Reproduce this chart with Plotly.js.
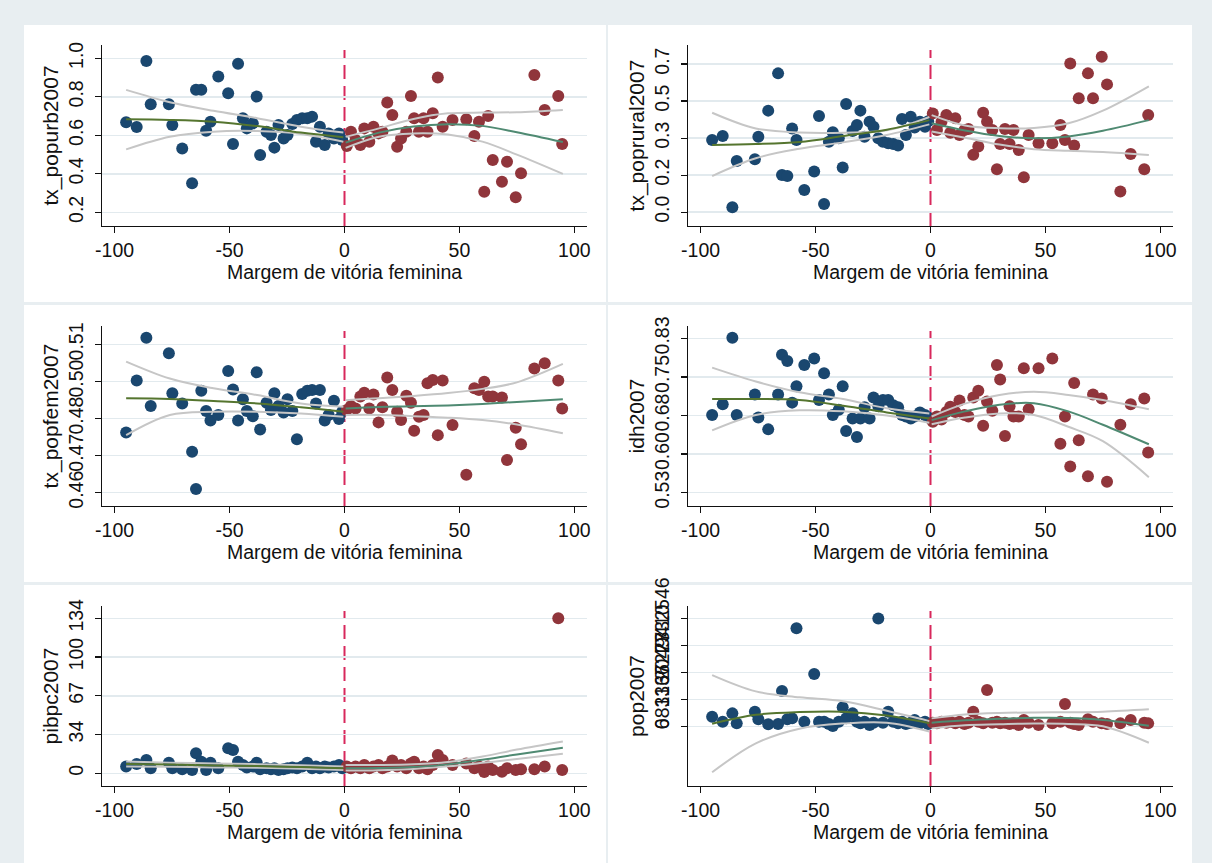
<!DOCTYPE html>
<html><head><meta charset="utf-8">
<script src="https://cdn.plot.ly/plotly-3.0.1.min.js"></script>
<style>html,body{margin:0;padding:0;background:#e8eef1;}#chart{width:1212px;height:863px;}</style>
</head><body><div id="chart"></div>
<script>
// ---- running variable (Margem de vitória feminina), shared by all panels ----
const xBlue = [-95.0,-90.4,-86.2,-84.3,-76.4,-74.9,-70.6,-66.3,-64.6,-62.3,-60.2,-58.3,-54.9,-50.6,-48.5,-46.3,-44.2,-42.5,-39.9,-38.2,-36.7,-33.9,-32.0,-30.5,-28.7,-26.5,-24.8,-22.7,-20.7,-18.4,-16.2,-14.1,-12.4,-10.7,-8.6,-6.9,-4.6,-2.4,-1.0];
const xRed = [1.0,2.8,4.8,6.9,8.6,10.8,12.6,14.8,16.5,18.6,20.8,22.9,24.6,26.9,28.9,30.3,32.4,34.4,36.1,38.4,40.6,42.7,47.0,53.0,56.5,58.5,60.8,62.5,64.5,68.5,70.7,74.5,76.8,82.6,87.1,93.0,94.7];

// ---- outcome values ----
const urbBlue = [0.668,0.643,0.986,0.761,0.761,0.654,0.532,0.351,0.836,0.836,0.624,0.671,0.905,0.818,0.555,0.972,0.688,0.636,0.662,0.801,0.498,0.619,0.602,0.536,0.654,0.584,0.602,0.659,0.680,0.688,0.688,0.697,0.567,0.645,0.550,0.610,0.584,0.610,0.576];
const urbRed = [0.545,0.619,0.576,0.550,0.636,0.567,0.645,0.610,0.619,0.770,0.706,0.541,0.584,0.619,0.804,0.688,0.619,0.688,0.619,0.714,0.900,0.645,0.680,0.683,0.597,0.671,0.307,0.700,0.472,0.359,0.463,0.278,0.403,0.913,0.732,0.804,0.555];
const ruralBlue = [0.341,0.360,0.024,0.242,0.250,0.357,0.480,0.656,0.176,0.171,0.396,0.341,0.105,0.192,0.455,0.039,0.333,0.378,0.349,0.211,0.511,0.384,0.412,0.480,0.357,0.428,0.404,0.349,0.333,0.326,0.322,0.315,0.440,0.365,0.451,0.400,0.428,0.404,0.430];
const ruralRed = [0.467,0.389,0.428,0.459,0.376,0.444,0.365,0.389,0.393,0.271,0.310,0.470,0.428,0.389,0.203,0.322,0.393,0.322,0.389,0.294,0.165,0.365,0.326,0.326,0.412,0.341,0.703,0.315,0.538,0.656,0.538,0.735,0.604,0.098,0.275,0.203,0.459];
const femBlue = [0.4803,0.4978,0.5122,0.4892,0.5070,0.4935,0.4901,0.4738,0.4612,0.4944,0.4875,0.4843,0.4862,0.5010,0.4948,0.4843,0.4915,0.4875,0.4858,0.5006,0.4813,0.4903,0.4879,0.4935,0.4892,0.4870,0.4915,0.4875,0.4780,0.4933,0.4944,0.4946,0.4901,0.4946,0.4843,0.4862,0.4910,0.4848,0.4873];
const femRed = [0.4879,0.4892,0.4884,0.4924,0.4937,0.4884,0.4931,0.4837,0.4888,0.4988,0.4946,0.4873,0.4845,0.4927,0.4903,0.4809,0.4856,0.4862,0.4969,0.4980,0.4794,0.4978,0.4828,0.4660,0.4952,0.4946,0.4974,0.4924,0.4924,0.4921,0.4710,0.4819,0.4763,0.5019,0.5036,0.4978,0.4884];
const idhBlue = [0.681,0.702,0.831,0.681,0.721,0.676,0.653,0.721,0.798,0.786,0.705,0.737,0.778,0.791,0.710,0.762,0.721,0.681,0.691,0.737,0.650,0.674,0.638,0.674,0.696,0.674,0.715,0.698,0.710,0.710,0.700,0.696,0.681,0.678,0.674,0.678,0.686,0.681,0.676];
const idhRed = [0.668,0.678,0.672,0.687,0.697,0.687,0.709,0.681,0.678,0.715,0.728,0.660,0.707,0.689,0.778,0.750,0.640,0.698,0.678,0.678,0.772,0.692,0.772,0.791,0.625,0.678,0.581,0.743,0.632,0.562,0.721,0.713,0.551,0.662,0.702,0.713,0.608];
const pibBlue = [5.8,8,11.5,4.3,9.2,4.3,3.5,2.9,17.3,10,2.9,9.2,4.3,21.6,20.2,10,7.2,4.9,5.8,9.2,3.5,4.3,3.5,4.3,2.9,3.5,4.3,4.9,4.3,5.8,9.2,4.3,5.8,4.3,5.8,4.9,5.8,7.2,4.3];
const pibRed = [5.8,4.3,5.8,4.3,7.2,4.3,5.8,7.2,4.3,5.8,11,5.8,7.2,4.3,8.5,10,4.3,5.8,3.5,7.2,15.8,11.5,7.2,8.5,4.3,5.8,1.0,5.8,2.9,1.4,4.3,2.9,3.5,3.5,5.8,134,2.9];
const popBlue = [252000,126000,336000,84000,378000,185000,59000,67000,900000,185000,210000,2480000,126000,1330000,126000,126000,67000,17000,126000,488000,210000,336000,126000,84000,126000,42000,101000,2730000,101000,378000,126000,84000,126000,67000,101000,168000,84000,126000,67000];
const popRed = [100000,84000,126000,101000,126000,84000,126000,67000,101000,378000,126000,84000,925000,101000,126000,84000,101000,67000,84000,42000,168000,101000,42000,84000,126000,572000,101000,67000,42000,185000,126000,84000,67000,84000,168000,101000,84000];

// ---- fitted curves with confidence bands ----
const fitXL = [-95,-76,-57,-38,-19,-0.5];
const fitXR = [0.5,15,30,45,60,75,95];
const urbFitL = [0.683,0.680,0.671,0.648,0.614,0.590], urbUpL = [0.836,0.772,0.727,0.689,0.645,0.614], urbLoL = [0.527,0.593,0.619,0.622,0.607,0.567];
const urbFitR = [0.562,0.614,0.646,0.658,0.649,0.616,0.565], urbUpR = [0.592,0.636,0.685,0.714,0.718,0.720,0.732], urbLoR = [0.535,0.593,0.610,0.604,0.567,0.500,0.400];
const ruralFitL = [0.318,0.322,0.332,0.360,0.390,0.435], ruralUpL = [0.470,0.396,0.377,0.376,0.387,0.450], ruralLoL = [0.171,0.255,0.300,0.330,0.365,0.415];
const ruralFitR = [0.420,0.386,0.360,0.349,0.358,0.385,0.435], ruralUpR = [0.459,0.410,0.397,0.398,0.420,0.480,0.595], ruralLoR = [0.381,0.352,0.320,0.298,0.290,0.284,0.270];
const femFitL = [0.4918,0.4916,0.4909,0.4901,0.4888,0.4873], femUpL = [0.5042,0.4985,0.4952,0.4929,0.4901,0.4890], femLoL = [0.4794,0.4862,0.4873,0.4873,0.4867,0.4856];
const femFitR = [0.4884,0.4889,0.4891,0.4894,0.4899,0.4906,0.4915], femUpR = [0.4912,0.4918,0.4926,0.4936,0.4950,0.4972,0.5034], femLoR = [0.4862,0.4862,0.4858,0.4853,0.4845,0.4830,0.4800];
const idhFitL = [0.712,0.712,0.710,0.699,0.686,0.674], idhUpL = [0.773,0.746,0.725,0.712,0.694,0.684], idhLoL = [0.651,0.681,0.690,0.688,0.680,0.666];
const idhFitR = [0.671,0.688,0.701,0.704,0.688,0.662,0.624], idhUpR = [0.678,0.703,0.720,0.726,0.720,0.710,0.692], idhLoR = [0.663,0.676,0.684,0.681,0.658,0.630,0.560];
const pibFitL = [8.1,7.5,6.8,6.2,5.4,4.3], pibUpL = [10.1,9.2,8.5,7.9,7.0,5.8], pibLoL = [5.8,5.6,5.1,4.7,4.0,2.9];
const pibFitR = [4.3,4.6,5.5,7.7,11.7,16.3,22.0], pibUpR = [7.2,7.2,7.8,9.8,14.5,20.5,27.5], pibLoR = [2.3,2.6,3.8,6.0,9.0,12.3,16.8];
const popFitL = [75000,300000,370000,378000,280000,86000], popUpL = [1300000,890000,740000,640000,400000,140000], popLoL = [-1150000,-420000,-50000,80000,100000,-120000];
const popFitR = [101000,160000,200000,225000,220000,170000,25000], popUpR = [210000,305000,345000,360000,365000,380000,437000], popLoR = [-42000,35000,60000,80000,70000,10000,-404000];

// ---- tick values and labels ----
const xTicks = [-100,-50,0,50,100], xTickText = ['-100','-50','0','50','100'];
const urbTicks = [0.2,0.4,0.6,0.8,1.0], urbLabels = ['0.2','0.4','0.6','0.8','1.0'];
const ruralTicks = [0,0.175,0.35,0.525,0.7], ruralLabels = ['0.0','0.2','0.3','0.5','0.7'];
const femTicks = [0.46,0.4725,0.485,0.4975,0.51], femLabels = ['0.46','0.47','0.48','0.50','0.51'];
const idhTicks = [0.53,0.605,0.68,0.755,0.83], idhLabels = ['0.53','0.60','0.68','0.75','0.83'];
const pibTicks = [0,33.5,67,100.5,134], pibLabels = ['0','34','67','100','134'];
const popTicks = [0,683136.5,1366273,2049409.5,2732546], popLabels = ['0','683137','1366273','2049410','2732546'];

const xTitle = 'Margem de vitória feminina';
const varNames = ['tx_popurb2007','tx_poprural2007','tx_popfem2007','idh2007','pibpc2007','pop2007'];

// ---- panel table built from the arrays above ----
const panels = [
  {name:varNames[0], b:urbBlue, r:urbRed, fl:urbFitL, ul:urbUpL, ll:urbLoL, fr:urbFitR, ur:urbUpR, lr:urbLoR, tv:urbTicks, tt:urbLabels, range:[0.129,1.069]},
  {name:varNames[1], b:ruralBlue, r:ruralRed, fl:ruralFitL, ul:ruralUpL, ll:ruralLoL, fr:ruralFitR, ur:ruralUpR, lr:ruralLoR, tv:ruralTicks, tt:ruralLabels, range:[-0.065,0.790]},
  {name:varNames[2], b:femBlue, r:femRed, fl:femFitL, ul:femUpL, ll:femLoL, fr:femFitR, ur:femUpR, lr:femLoR, tv:femTicks, tt:femLabels, range:[0.4555,0.5162]},
  {name:varNames[3], b:idhBlue, r:idhRed, fl:idhFitL, ul:idhUpL, ll:idhLoL, fr:idhFitR, ur:idhUpR, lr:idhLoR, tv:idhTicks, tt:idhLabels, range:[0.504,0.854]},
  {name:varNames[4], b:pibBlue, r:pibRed, fl:pibFitL, ul:pibUpL, ll:pibLoL, fr:pibFitR, ur:pibUpR, lr:pibLoR, tv:pibTicks, tt:pibLabels, range:[-11,144.6]},
  {name:varNames[5], b:popBlue, r:popRed, fl:popFitL, ul:popUpL, ll:popLoL, fr:popFitR, ur:popUpR, lr:popLoR, tv:popTicks, tt:popLabels, range:[-1494800,3042600]}
];

const W = 1212, H = 863;
const colPx = [[102,587],[688,1173]];
const rowPx = [[45,226],[326,506],[606,786]];
const panelPx = [[24,25,606,302],[608,25,1192,302],[24,305,606,582],[608,305,1192,582],[24,585,606,863],[608,585,1192,863]];
const FONT = 'Liberation Sans, Arial, sans-serif';
const BLUE = '#1a476f', RED = '#90353b', GREEN = '#55752f', TEAL = '#4f8a72', CI = '#c6c6c6', DASH = '#d8285c';

const traces = [];
const layout = {
  width: W, height: H, margin: {l:0, r:0, t:0, b:0},
  paper_bgcolor: '#e8eef1', plot_bgcolor: 'rgba(0,0,0,0)',
  showlegend: false, shapes: [], font: {family: FONT, color: '#000'}
};

panelPx.forEach(p => layout.shapes.push({type:'rect', xref:'paper', yref:'paper', layer:'below',
  x0:p[0]/W, x1:p[2]/W, y0:1-p[3]/H, y1:1-p[1]/H, fillcolor:'#ffffff', line:{width:0}}));

panels.forEach((p, i) => {
  const n = i + 1, col = i % 2, row = Math.floor(i / 2);
  const xa = 'x' + (n === 1 ? '' : n), ya = 'y' + (n === 1 ? '' : n);
  const axX = 'xaxis' + (n === 1 ? '' : n), axY = 'yaxis' + (n === 1 ? '' : n);
  traces.push({x:xBlue, y:p.b, xaxis:xa, yaxis:ya, type:'scatter', mode:'markers', marker:{color:BLUE, size:12}, hoverinfo:'x+y'});
  traces.push({x:xRed, y:p.r, xaxis:xa, yaxis:ya, type:'scatter', mode:'markers', marker:{color:RED, size:12}, hoverinfo:'x+y'});
  [[fitXL,p.ul,CI],[fitXL,p.ll,CI],[fitXR,p.ur,CI],[fitXR,p.lr,CI],[fitXL,p.fl,GREEN],[fitXR,p.fr,TEAL]].forEach(l => {
    traces.push({x:l[0], y:l[1], xaxis:xa, yaxis:ya, type:'scatter', mode:'lines', line:{color:l[2], width:2, shape:'spline', smoothing:1}, hoverinfo:'skip'});
  });
  layout[axX] = {
    domain:[colPx[col][0]/W, colPx[col][1]/W], anchor: ya, range:[-105.5,105.5],
    tickvals:xTicks, ticktext:xTickText, ticks:'outside', ticklen:6, tickwidth:1.3, tickcolor:'#111',
    showline:true, linecolor:'#111', linewidth:1.3, showgrid:false, zeroline:false,
    tickfont:{family:FONT, size:19.5, color:'#111'},
    title:{text:xTitle, font:{family:FONT, size:19.5, color:'#111'}, standoff:2}
  };
  layout[axY] = {
    domain:[1-rowPx[row][1]/H, 1-rowPx[row][0]/H], anchor: xa, range:p.range,
    tickvals:p.tv, ticktext:p.tt, tickangle:-90, ticks:'outside', ticklen:6, tickwidth:1.3, tickcolor:'#111',
    ticklabelstandoff:4,
    showline:true, linecolor:'#111', linewidth:1.3, showgrid:true, gridcolor:'#e2eaee', gridwidth:1.5, zeroline:false,
    tickfont:{family:FONT, size:19.5, color:'#111'},
    title:{text:p.name, font:{family:FONT, size:21, color:'#111'}, standoff:0}
  };
  layout.shapes.push({type:'line', xref:xa, yref:ya + ' domain', layer:'below', x0:0, x1:0, y0:0, y1:0.972,
    line:{color:DASH, width:2, dash:'14px,7px'}});
});

Plotly.newPlot('chart', traces, layout, {displayModeBar:false, staticPlot:true});
</script>
</body></html>
